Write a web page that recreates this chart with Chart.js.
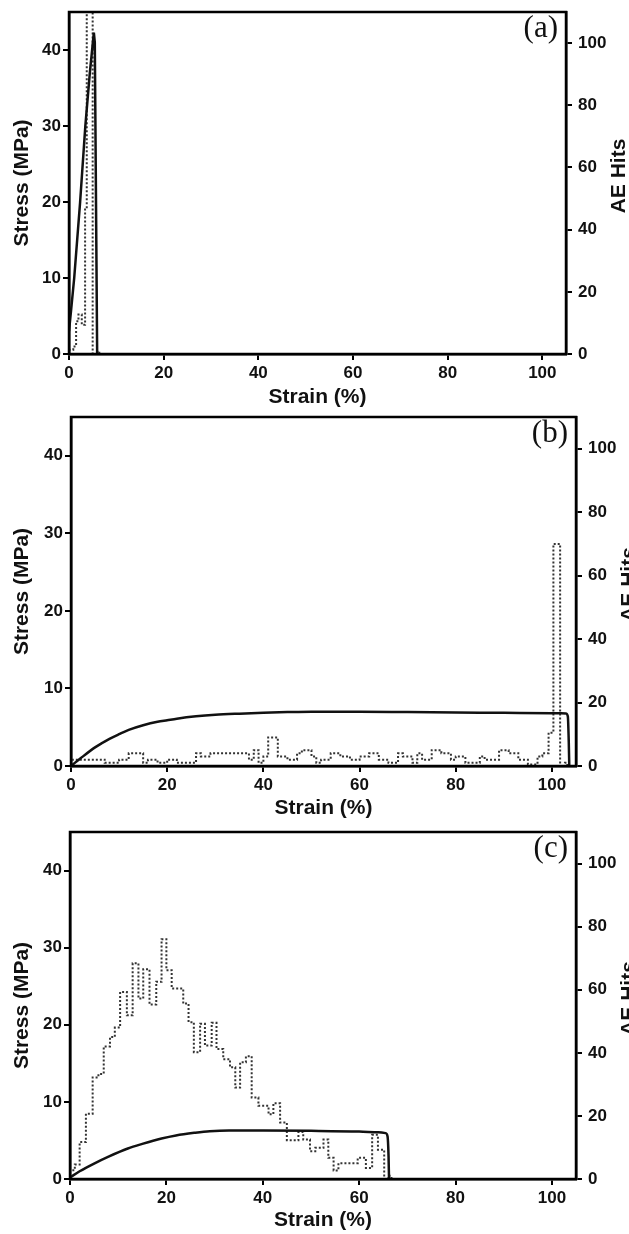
<!DOCTYPE html>
<html>
<head>
<meta charset="utf-8">
<script src="https://cdn.jsdelivr.net/npm/chart.js@4.4.0/dist/chart.umd.min.js"></script>
<style>
  html, body { margin: 0; padding: 0; background: #fff; overflow: hidden; }
  canvas { display: block; }
</style>
</head>
<body>
<canvas id="chartA" width="629" height="411"></canvas>
<canvas id="chartB" width="629" height="411"></canvas>
<canvas id="chartC" width="629" height="412"></canvas>
<script>
// tick labels
const strainTicks = [0, 20, 40, 60, 80, 100];
const stressTicks = [0, 10, 20, 30, 40];
const hitsTicks = [0, 20, 40, 60, 80, 100];

// (a) stress-strain curve + AE hits (step edges / values)
const aStrain = [0, 0.4, 1.1, 2.35, 3.45, 4.4, 5.25, 5.45, 5.95];
const aStress = [3, 5.5, 10, 20, 30, 37, 42.3, 41, 0];
const aHitsStrain = [0, 0.9, 1.5, 2.0, 2.7, 3.4, 3.75, 5.0, 6.0, 6.4, 7.2];
const aHits = [0, 1.4, 2.4, 10.5, 12.7, 9.4, 46.5, 116, 0, 1, 0];

// (b)
const bStrain = [0, 2, 5, 8, 10, 12, 15, 18, 20, 22, 26, 30, 35, 40, 45, 50, 60, 70, 80, 90, 100, 102.9, 103.3, 103.5, 103.6];
const bStress = [0, 1.0, 2.4, 3.5, 4.1, 4.65, 5.25, 5.7, 5.9, 6.1, 6.4, 6.6, 6.75, 6.87, 6.95, 7.0, 7.0, 6.95, 6.9, 6.85, 6.8, 6.78, 6.4, 3, 0];
const bHitsStrain = [0, 7, 10, 12, 15, 16, 18, 20, 22, 26, 27, 29, 37, 38, 39, 40, 41, 43, 45, 47,
  48, 50, 51, 52, 54, 56, 58, 60, 62, 64, 66, 68, 69, 71, 72, 73, 75, 77, 79, 80,
  82, 85, 86, 89, 91, 93, 95, 97, 98, 99.3, 100.3, 101.7, 102.7, 103.2, 104];
const bHits = [1, 2, 1, 2, 4, 1, 2, 1, 2, 1, 4, 3, 4, 2, 5, 1, 3, 9, 3, 2,
  4, 5, 3, 1, 2, 4, 3, 2, 3, 4, 2, 1, 4, 3, 1, 4, 2, 5, 4, 2,
  3, 1, 3, 2, 5, 4, 2, 0.5, 3, 4, 10.5, 70, 0, 1, 0];

// (c)
const cStrain = [0, 2, 5, 8, 12, 15, 19, 22, 26, 29, 33, 40, 50, 60, 64, 65.5, 65.9, 66.1, 66.2];
const cStress = [0.2, 1.0, 2.0, 2.9, 3.95, 4.55, 5.25, 5.65, 6.0, 6.2, 6.3, 6.3, 6.25, 6.15, 6.05, 5.95, 5.5, 3, 0];
const cHitsStrain = [0, 1, 2, 3.3, 4.7, 5.9, 7, 8.3, 9.3, 10.4, 11.8, 13, 14.2, 15.2, 16.5, 17.9, 19, 20, 21.1, 23.5,
  24.6, 25.7, 27, 28, 29.4, 30.4, 31.8, 33.2, 34.3, 35.3, 36.5, 37.7, 39.1, 41.2, 42.2, 43.6, 45, 47.4, 48.4, 49.8,
  50.9, 52.6, 53.6, 54.7, 55.7, 59.7, 61.4, 62.7, 63.9, 65.2, 66, 66.7, 69];
const cHits = [1, 2.8, 4.6, 11.7, 20.7, 32.2, 33.3, 42, 45, 48, 59.3, 51.9, 68.4, 57.2, 66.5, 55.3, 62.5, 76, 66.2, 60.4,
  55.6, 49.7, 40.2, 49.2, 42.3, 49.5, 41.2, 38, 35.4, 29, 37, 38.9, 25.8, 23.2, 20.5, 24, 17.9, 12.3, 14.9, 12.5,
  8.8, 9.9, 12.5, 6.7, 2.7, 5, 6.7, 3.5, 14, 9.3, 0, 1, 0];

const tickFont = { family: "'Liberation Sans', Arial, sans-serif", size: 17, weight: 'bold' };
const titleFont = { family: "'Liberation Sans', Arial, sans-serif", size: 21, weight: 'bold' };

function toPoints(xs, ys) {
  return xs.map((x, i) => ({ x: x, y: ys[i] }));
}

// frame, panel letter and the right-hand title
const panelPlugin = {
  id: 'panel',
  afterDraw(chart, args, opts) {
    const ctx = chart.ctx;
    const a = chart.chartArea;
    ctx.save();
    ctx.strokeStyle = '#000';
    ctx.lineWidth = 2.5;
    ctx.strokeRect(a.left, a.top, a.right - a.left, a.bottom - a.top);

    ctx.fillStyle = '#111';
    ctx.font = "31px 'Liberation Serif', 'Times New Roman', serif";
    ctx.textAlign = 'right';
    ctx.textBaseline = 'middle';
    ctx.fillText(opts.label, a.right - 8, a.top + 17);

    ctx.translate(a.right + 53, (a.top + a.bottom) / 2 - 7);
    ctx.rotate(-Math.PI / 2);
    ctx.font = "bold 21px 'Liberation Sans', Arial, sans-serif";
    ctx.textAlign = 'center';
    ctx.fillText('AE Hits', 0, 0);
    ctx.restore();
  }
};

function fixSize(size) {
  return function (scale) {
    if (scale.isHorizontal()) scale.height = size;
    else scale.width = size;
    scale.paddingTop = 0; scale.paddingBottom = 0;
    scale.paddingLeft = 0; scale.paddingRight = 0;
  };
}

function setTicks(values) {
  return function (scale) {
    scale.ticks = values.map(v => ({ value: v }));
  };
}

function makePanel(id, label, box, smooth, stressX, stressY, hitsX, hitsY) {
  const canvas = document.getElementById(id);
  const W = canvas.width, H = canvas.height;
  const gridOpts = { drawOnChartArea: false, color: '#000', lineWidth: 2, tickLength: 6 };
  const borderOpts = { color: '#000', width: 2.5 };

  new Chart(canvas, {
    type: 'line',
    data: {
      datasets: [
        {
          data: toPoints(stressX, stressY), yAxisID: 'y', borderColor: '#111', borderWidth: 2.5,
          pointRadius: 0, cubicInterpolationMode: smooth ? 'monotone' : 'default', tension: 0, order: 0
        },
        {
          data: toPoints(hitsX, hitsY), yAxisID: 'y2', borderColor: '#333', borderWidth: 2,
          borderDash: [2, 2], stepped: 'after', pointRadius: 0, order: 1
        }
      ]
    },
    options: {
      responsive: false,
      animation: false,
      events: [],
      layout: { padding: { top: box.top, left: 0, right: 0, bottom: 0 } },
      plugins: { legend: { display: false }, tooltip: { enabled: false }, panel: { label: label } },
      scales: {
        x: {
          type: 'linear', position: 'bottom', min: 0, max: 105,
          afterBuildTicks: setTicks(strainTicks),
          afterFit: fixSize(H - box.bottom),
          grid: gridOpts, border: borderOpts,
          ticks: { font: tickFont, color: '#111', padding: 3, autoSkip: false, maxRotation: 0 },
          title: { display: true, text: 'Strain (%)', font: titleFont, color: '#111', padding: { top: 0, bottom: 1 } }
        },
        y: {
          type: 'linear', position: 'left', min: 0, max: 45,
          afterBuildTicks: setTicks(stressTicks),
          afterFit: fixSize(box.left),
          grid: gridOpts, border: borderOpts,
          ticks: { font: tickFont, color: '#111', padding: 2 },
          title: { display: true, text: 'Stress (MPa)', font: titleFont, color: '#111', padding: { top: 10, bottom: 0 } }
        },
        y2: {
          type: 'linear', position: 'right', min: 0, max: 110,
          afterBuildTicks: setTicks(hitsTicks),
          afterFit: fixSize(W - box.right),
          grid: gridOpts, border: borderOpts,
          ticks: { font: tickFont, color: '#111', padding: 6 }
        }
      }
    },
    plugins: [panelPlugin]
  });
}

makePanel('chartA', '(a)', { top: 12, left: 69, right: 566, bottom: 354 }, false, aStrain, aStress, aHitsStrain, aHits);
makePanel('chartB', '(b)', { top: 6, left: 71, right: 576, bottom: 355 }, true, bStrain, bStress, bHitsStrain, bHits);
makePanel('chartC', '(c)', { top: 10, left: 70, right: 576, bottom: 357 }, true, cStrain, cStress, cHitsStrain, cHits);
</script>
</body>
</html>
